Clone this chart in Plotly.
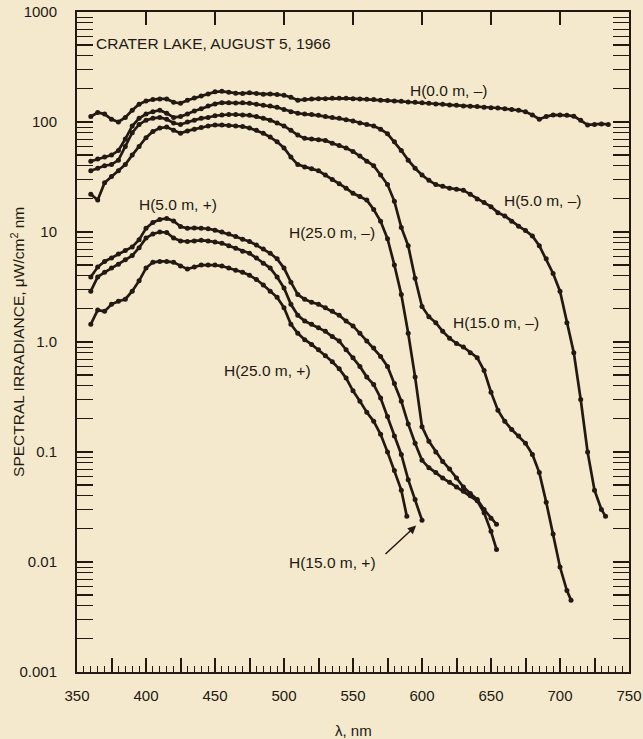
import math
import plotly.graph_objects as go

# ---------------- data ----------------
WL_H0 = [360, 365, 370, 375, 380, 385, 390, 395, 400, 405, 410, 415, 420, 425, 430, 435, 440, 445, 450, 455,
         460, 465, 470, 475, 480, 485, 490, 495, 500, 505, 510, 515, 520, 525, 530, 535, 540, 545, 550, 555,
         560, 565, 570, 575, 580, 585, 590, 595, 600, 605, 610, 615, 620, 625, 630, 635, 640, 645, 650, 655,
         660, 665, 670, 675, 680, 685, 690, 695, 700, 705, 710, 715, 720, 725, 730, 735]
H0_MINUS = [112, 122, 118, 106, 100, 110, 128, 145, 155, 160, 162, 162, 151, 148, 158, 165, 172, 180, 188, 190,
            186, 183, 182, 184, 182, 179, 180, 178, 175, 168, 158, 160, 162, 163, 163, 164, 164, 164, 163, 162,
            161, 160, 158, 157, 155, 154, 152, 151, 150, 148, 146, 145, 143, 142, 140, 139, 138, 136, 135, 134,
            132, 130, 128, 124, 116, 106, 112, 116, 116, 115, 113, 104, 94, 95, 96, 95]

WL_H5M = [360, 365, 370, 375, 380, 385, 390, 395, 400, 405, 410, 415, 420, 425, 430, 435, 440, 445, 450, 455,
          460, 465, 470, 475, 480, 485, 490, 495, 500, 505, 510, 515, 520, 525, 530, 535, 540, 545, 550, 555,
          560, 565, 570, 575, 580, 585, 590, 595, 600, 605, 610, 615, 620, 625, 630, 635, 640, 645, 650, 655,
          660, 665, 670, 675, 680, 685, 690, 695, 700, 705, 710, 715, 720, 725, 730, 733]
H5_MINUS = [44, 46, 48, 50, 55, 70, 92, 108, 118, 124, 128, 120, 110, 112, 118, 126, 132, 140, 146, 150,
            150, 149, 150, 148, 145, 142, 140, 136, 130, 124, 120, 118, 117, 115, 112, 110, 108, 105, 102, 98,
            95, 92, 86, 78, 66, 55, 45, 38, 33, 29.5, 27, 26, 25, 24.5, 24, 22, 20, 18.5, 17, 15,
            14, 12.5, 11.3, 10.3, 9.2, 7.5, 5.7, 4.2, 2.9, 1.5, 0.8, 0.3, 0.1, 0.045, 0.03, 0.026]

WL_H15M = [360, 365, 370, 375, 380, 385, 390, 395, 400, 405, 410, 415, 420, 425, 430, 435, 440, 445, 450, 455,
           460, 465, 470, 475, 480, 485, 490, 495, 500, 505, 510, 515, 520, 525, 530, 535, 540, 545, 550, 555,
           560, 565, 570, 575, 580, 585, 590, 595, 600, 605, 610, 615, 620, 625, 630, 635, 640, 645, 650, 655,
           660, 665, 670, 675, 680, 685, 690, 695, 700, 705, 708]
H15_MINUS = [36, 38, 40, 41, 45, 60, 80, 95, 104, 108, 110, 106, 98, 95, 100, 104, 108, 110, 114, 116,
             117, 117, 116, 115, 112, 108, 104, 98, 92, 84, 76, 71, 70, 69, 68, 64, 61, 58, 54, 49,
             44, 40, 33, 27, 19, 11, 7.5, 3.8, 2.1, 1.7, 1.5, 1.25, 1.08, 0.97, 0.9, 0.8, 0.72, 0.55, 0.35, 0.24,
             0.19, 0.16, 0.14, 0.12, 0.095, 0.065, 0.035, 0.018, 0.009, 0.0055, 0.0045]

WL_H25M = [360, 365, 370, 375, 380, 385, 390, 395, 400, 405, 410, 415, 420, 425, 430, 435, 440, 445, 450, 455,
           460, 465, 470, 475, 480, 485, 490, 495, 500, 505, 510, 515, 520, 525, 530, 535, 540, 545, 550, 555,
           560, 565, 570, 575, 580, 585, 590, 595, 600, 605, 610, 615, 620, 625, 630, 635, 640, 645, 650, 654]
H25_MINUS = [22, 19.5, 28, 32, 36, 41, 50, 60, 72, 82, 88, 90, 84, 79, 83, 86, 89, 92, 94, 94,
             93, 92, 91, 88, 84, 79, 73, 66, 58, 48, 41, 39, 37.5, 36, 33, 30, 27.5, 25, 22.5, 21,
             19.5, 16, 12.5, 8.7, 5, 2.7, 1.2, 0.48, 0.17, 0.125, 0.1, 0.082, 0.07, 0.058, 0.048, 0.042, 0.037, 0.03, 0.025, 0.022]

WL_H5P = [360, 365, 370, 375, 380, 385, 390, 395, 400, 405, 410, 415, 420, 425, 430, 435, 440, 445, 450, 455,
          460, 465, 470, 475, 480, 485, 490, 495, 500, 505, 510, 515, 520, 525, 530, 535, 540, 545, 550, 555,
          560, 565, 570, 575, 580, 585, 590, 595, 600, 605, 610, 615, 620, 625, 630, 635, 640, 645, 650, 654]
H5_PLUS = [3.9, 4.8, 5.4, 5.8, 6.3, 6.8, 7.3, 8.5, 10.8, 12.2, 13.0, 13.3, 12.6, 11.2, 10.8, 10.9, 10.8, 10.7, 10.4, 10.0,
           9.6, 9.1, 8.6, 8.2, 7.6, 7.0, 6.4, 5.7, 4.7, 3.5, 2.7, 2.45, 2.3, 2.2, 2.05, 1.9, 1.75, 1.55, 1.4, 1.2,
           1.02, 0.88, 0.74, 0.6, 0.42, 0.29, 0.18, 0.12, 0.084, 0.072, 0.065, 0.058, 0.053, 0.048, 0.044, 0.04, 0.036, 0.028, 0.019, 0.013]

WL_H15P = [360, 365, 370, 375, 380, 385, 390, 395, 400, 405, 410, 415, 420, 425, 430, 435, 440, 445, 450, 455,
           460, 465, 470, 475, 480, 485, 490, 495, 500, 505, 510, 515, 520, 525, 530, 535, 540, 545, 550, 555,
           560, 565, 570, 575, 580, 585, 590, 595, 600]
H15_PLUS = [2.9, 3.9, 4.3, 4.7, 5.1, 5.6, 6.1, 7.2, 8.8, 9.6, 10.0, 9.9, 8.8, 8.3, 8.2, 8.3, 8.4, 8.3, 8.1, 7.9,
            7.5, 7.1, 6.7, 6.4, 5.8, 5.2, 4.7, 3.9, 3.1, 2.2, 1.75, 1.55, 1.45, 1.35, 1.25, 1.12, 1.02, 0.85, 0.72, 0.6,
            0.48, 0.41, 0.31, 0.21, 0.14, 0.095, 0.056, 0.037, 0.024]

WL_H25P = [360, 365, 370, 375, 380, 385, 390, 395, 400, 405, 410, 415, 420, 425, 430, 435, 440, 445, 450, 455,
           460, 465, 470, 475, 480, 485, 490, 495, 500, 505, 510, 515, 520, 525, 530, 535, 540, 545, 550, 555,
           560, 565, 570, 575, 580, 585, 589]
H25_PLUS = [1.45, 1.95, 1.9, 2.2, 2.35, 2.45, 2.9, 3.6, 4.7, 5.3, 5.4, 5.4, 5.3, 4.9, 4.6, 4.8, 5.0, 5.0, 5.0, 4.9,
            4.7, 4.5, 4.3, 4.05, 3.7, 3.3, 2.9, 2.55, 2.05, 1.45, 1.2, 1.05, 0.95, 0.85, 0.75, 0.66, 0.57, 0.47, 0.36, 0.29,
            0.23, 0.19, 0.145, 0.1, 0.068, 0.045, 0.026]

X_TICKS = [350, 400, 450, 500, 550, 600, 650, 700, 750]
Y_TICK_LABELS = ["0.001", "0.01", "0.1", "1.0", "10", "100", "1000"]

# ---------------- styling ----------------
INK = "#221913"
BG = "#f4e9cc"
FONT = "Liberation Sans, Arial, Helvetica, sans-serif"
TXT = 15.5

series = [
    (WL_H0, H0_MINUS), (WL_H5M, H5_MINUS), (WL_H15M, H15_MINUS), (WL_H25M, H25_MINUS),
    (WL_H5P, H5_PLUS), (WL_H15P, H15_PLUS), (WL_H25P, H25_PLUS),
]

fig = go.Figure()
for wl, vals in series:
    fig.add_trace(go.Scatter(
        x=wl, y=vals, mode="lines+markers",
        line=dict(color=INK, width=2.7),
        marker=dict(size=5, color=INK),
        showlegend=False, hoverinfo="skip"))

# invisible trace so the top tick axis is drawn
fig.add_trace(go.Scatter(x=[400], y=[1], xaxis="x2", mode="markers",
                         marker=dict(opacity=0), showlegend=False, hoverinfo="skip"))

# x ticks: major every 25 (labels at 50s), minor every 5
x_major = [350 + 25 * i for i in range(17)]
x_major_text = [str(v) if v in X_TICKS else " " for v in x_major]

# y ticks: decades (labelled) and 5x (unlabelled, long); others minor
y_major, y_major_text = [], []
y_minor = []
for i, lab in enumerate(Y_TICK_LABELS):
    dec = 10 ** (i - 3)
    y_major.append(dec)
    y_major_text.append(lab)
    if i < 6:
        y_major.append(5 * dec)
        y_major_text.append(" ")
        for k in (2, 3, 4, 6, 7, 8, 9):
            y_minor.append(k * dec)

fig.update_layout(
    width=643, height=739,
    margin=dict(l=77, r=14, t=12, b=67),
    paper_bgcolor=BG, plot_bgcolor=BG,
    font=dict(family=FONT, size=15, color=INK),
    xaxis=dict(
        range=[350, 750], showgrid=False, zeroline=False, automargin=False,
        showline=True, linecolor=INK, linewidth=2, mirror=True,
        ticks="inside", tickmode="array", tickvals=x_major, ticktext=x_major_text,
        ticklen=14, tickwidth=1.5, tickcolor=INK,
        ticklabelstandoff=9,
        tickfont=dict(size=15, family=FONT, color=INK),
        minor=dict(ticks="inside", tickmode="linear", tick0=350, dtick=5,
                   ticklen=6, tickwidth=1.2, tickcolor=INK, showgrid=False),
    ),
    xaxis2=dict(
        range=[350, 750], overlaying="x", side="top", showgrid=False, zeroline=False,
        showline=False, ticks="inside", tickmode="array", tickvals=X_TICKS[1:-1],
        ticklen=13, tickwidth=1.5, tickcolor=INK, showticklabels=False, automargin=False,
    ),
    yaxis=dict(
        type="log", range=[-3, 3], showgrid=False, zeroline=False, automargin=False,
        showline=True, linecolor=INK, linewidth=2, mirror="allticks",
        ticks="inside", tickmode="array", tickvals=y_major, ticktext=y_major_text,
        ticklen=16, tickwidth=1.5, tickcolor=INK,
        ticklabelstandoff=15,
        tickfont=dict(size=15, family=FONT, color=INK),
        minor=dict(ticks="inside", tickmode="array", tickvals=y_minor,
                   ticklen=8, tickwidth=1.2, tickcolor=INK, showgrid=False),
    ),
)

def lab(text, x, y, **kw):
    fig.add_annotation(text=text, x=x, y=math.log10(y), xref="x", yref="y",
                       showarrow=False, font=dict(family=FONT, size=TXT, color=INK), **kw)

lab("CRATER LAKE, AUGUST 5, 1966", 362, 522, xanchor="left")
lab("H(0.0 m, \u2013)", 619.6, 195)
lab("H(5.0 m, \u2013)", 687.7, 19.5)
lab("H(15.0 m, \u2013)", 653.6, 1.52)
lab("H(25.0 m, \u2013)", 534.6, 9.8)
lab("H(5.0 m, +)", 423.2, 17.6)
lab("H(25.0 m, +)", 488, 0.556)
lab("H(15.0 m, +)", 535.5, 0.0100)

# arrow pointing to the end of H(15.0 m, +)
fig.add_annotation(text=" ", x=WL_H15P[-1], y=math.log10(H15_PLUS[-1]), xref="x", yref="y",
                   showarrow=True, ax=-40, ay=37, arrowhead=2, arrowsize=1.1,
                   arrowwidth=1.5, arrowcolor=INK, standoff=8)

# axis titles
fig.add_annotation(text="SPECTRAL IRRADIANCE, \u03bcW/cm<sup>2</sup> nm", xref="paper", yref="paper",
                   x=-0.107, y=0.5, xanchor="center", yanchor="middle", textangle=-90, showarrow=False,
                   font=dict(family=FONT, size=TXT, color=INK))
fig.add_annotation(text="\u03bb, nm", xref="paper", yref="paper", x=0.5, y=-0.088,
                   xanchor="center", yanchor="middle",
                   showarrow=False, font=dict(family=FONT, size=15, color=INK))

fig.write_html("out.html", config={"displayModeBar": False},
               post_script="document.body.style.margin='0';document.body.style.padding='0';")
